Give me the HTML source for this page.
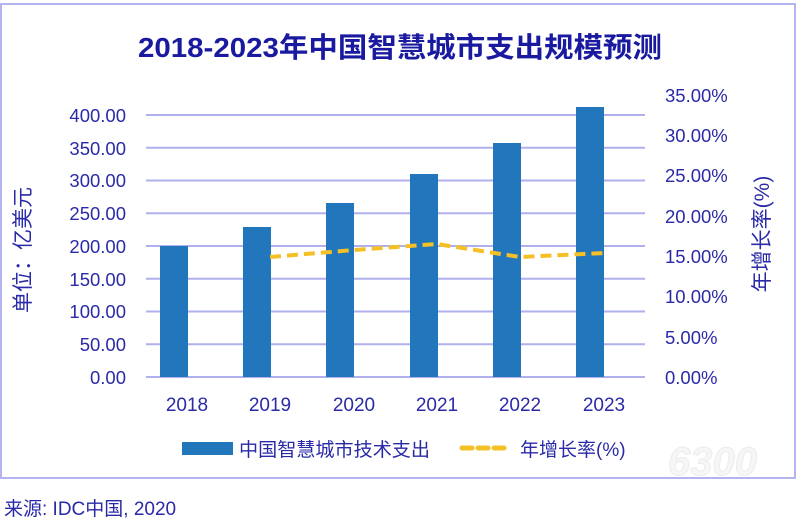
<!DOCTYPE html><html><head><meta charset="utf-8"><style>body{margin:0;background:#fff;width:797px;height:519px;overflow:hidden}</style></head><body>
<svg width="797" height="519" xmlns="http://www.w3.org/2000/svg" font-family="'Liberation Sans','Noto Sans CJK SC',sans-serif">
<rect x="1" y="4" width="794" height="474" fill="#fff" stroke="#b4b4f0" stroke-width="2"/>
<text x="400" y="57" text-anchor="middle" font-size="28" font-weight="bold" fill="#1a1aa0" textLength="524" lengthAdjust="spacingAndGlyphs">2018-2023年中国智慧城市支出规模预测</text>
<g stroke="#b0b0ee" stroke-width="2">
<line x1="146" x2="645" y1="377" y2="377"/><line x1="146" x2="645" y1="344.3" y2="344.3"/><line x1="146" x2="645" y1="311.5" y2="311.5"/><line x1="146" x2="645" y1="278.8" y2="278.8"/><line x1="146" x2="645" y1="246" y2="246"/><line x1="146" x2="645" y1="213.3" y2="213.3"/><line x1="146" x2="645" y1="180.5" y2="180.5"/><line x1="146" x2="645" y1="147.8" y2="147.8"/><line x1="146" x2="645" y1="115" y2="115"/>
</g>
<g font-size="18.5" fill="#2a2aa8" text-anchor="end">
<text x="126" y="384">0.00</text><text x="126" y="351">50.00</text><text x="126" y="318">100.00</text><text x="126" y="286">150.00</text><text x="126" y="253">200.00</text><text x="126" y="220">250.00</text><text x="126" y="187">300.00</text><text x="126" y="155">350.00</text><text x="126" y="122">400.00</text>
</g>
<g font-size="18.5" fill="#2a2aa8">
<text x="665" y="384">0.00%</text><text x="665" y="344">5.00%</text><text x="665" y="303">10.00%</text><text x="665" y="263">15.00%</text><text x="665" y="223">20.00%</text><text x="665" y="182">25.00%</text><text x="665" y="142">30.00%</text><text x="665" y="102">35.00%</text>
</g>
<text transform="translate(30,250) rotate(-90)" text-anchor="middle" font-size="21" fill="#2a2aa8">单位：亿美元</text>
<text transform="translate(769,234) rotate(-90)" text-anchor="middle" font-size="21" fill="#2a2aa8">年增长率(%)</text>
<g fill="#2176bc">
<rect x="160" y="246" width="28" height="131"/>
<rect x="243" y="227" width="28" height="150"/>
<rect x="326" y="203" width="28" height="174"/>
<rect x="410" y="174" width="28" height="203"/>
<rect x="493" y="143" width="28" height="234"/>
<rect x="576" y="107" width="28" height="270"/>
</g>
<polyline points="270,257 354,250 437,244 520,257 604,253" fill="none" stroke="#f4c025" stroke-width="4" stroke-dasharray="11,6"/>
<g font-size="19" fill="#2a2aa8" text-anchor="middle">
<text x="187" y="411">2018</text><text x="270" y="411">2019</text><text x="354" y="411">2020</text><text x="437" y="411">2021</text><text x="520" y="411">2022</text><text x="604" y="411">2023</text>
</g>
<rect x="182" y="442" width="51" height="13" fill="#2176bc"/>
<text x="239" y="456" font-size="19" fill="#2a2aa8" textLength="191" lengthAdjust="spacingAndGlyphs">中国智慧城市技术支出</text>
<line x1="462" x2="508" y1="448" y2="448" stroke="#f4c025" stroke-width="5" stroke-dasharray="10,6" stroke-linecap="round"/>
<text x="520" y="456" font-size="19" fill="#2a2aa8">年增长率(%)</text>
<text x="668" y="475" font-size="40" font-style="italic" font-weight="bold" fill="#f6f6f6" stroke="#ececec">6300</text>
<text x="4" y="515" font-size="19" fill="#2a2aa8">来源: IDC中国, 2020</text>
</svg>
</body></html>
